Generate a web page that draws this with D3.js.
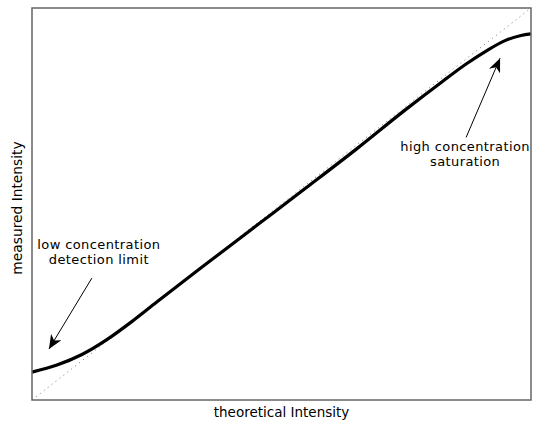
<!DOCTYPE html>
<html>
<head>
<meta charset="utf-8">
<script src="https://cdn.jsdelivr.net/npm/d3@7"></script>
<style>
  body { margin: 0; background: #fff; }
  text { font-family: "DejaVu Sans", Verdana, sans-serif; fill: #000; }
</style>
</head>
<body>
<script>
// theoretical vs measured intensity (arbitrary units, 0..100)
var theoretical = [0, 5, 10, 15, 20, 25, 35, 45, 55, 65, 75, 82, 87, 91, 95, 98, 100];
var measured    = [7.1, 8.9, 11.6, 15.4, 20.0, 25.0, 34.8, 44.5, 54.2, 64.0, 74.2, 81.0, 85.7, 89.0, 91.8, 93.0, 93.4];
var idealLine = [0, 100];
var xLabel = "theoretical Intensity",
  yLabel = "measured Intensity";
var notes = [
  { lines: ["low concentration", "detection limit"], at: [13.4, 38.4], from: [12.0, 31.1], to: [3.4, 13.0] },
  { lines: ["high concentration", "saturation"], at: [86.8, 63.5], from: [87, 67], to: [93.8, 87.2] }
];

var width = 533,
  height = 424,
  margin = { top: 8, right: 2, bottom: 24, left: 32 };

var svg = d3.select("body").append("svg")
  .attr("width", width)
  .attr("height", height);

var x = d3.scaleLinear().domain([0, 100]).range([margin.left, width - margin.right]);
var y = d3.scaleLinear().domain([0, 100]).range([height - margin.bottom, margin.top]);

svg.append("defs").append("marker")
  .attr("id", "head")
  .attr("viewBox", "0 0 14 12")
  .attr("refX", 14).attr("refY", 6)
  .attr("markerWidth", 14).attr("markerHeight", 12)
  .attr("markerUnits", "userSpaceOnUse")
  .attr("orient", "auto")
  .append("path")
  .attr("d", "M0,0 L14,6 L0,12 L4,6 Z")
  .attr("fill", "#000");

// dotted ideal line
svg.append("line")
  .attr("x1", x(idealLine[0])).attr("y1", y(idealLine[0]))
  .attr("x2", x(idealLine[1])).attr("y2", y(idealLine[1]))
  .attr("stroke", "#777")
  .attr("stroke-width", 1)
  .attr("stroke-dasharray", "1,4");

var line = d3.line()
  .curve(d3.curveMonotoneX)
  .x(function (d) { return x(d[0]); })
  .y(function (d) { return y(d[1]); });

svg.append("path")
  .datum(d3.zip(theoretical, measured))
  .attr("d", line)
  .attr("fill", "none")
  .attr("stroke", "#000")
  .attr("stroke-width", 3.2);

// frame
svg.append("rect")
  .attr("x", x(0)).attr("y", y(100))
  .attr("width", x(100) - x(0)).attr("height", y(0) - y(100))
  .attr("fill", "none")
  .attr("stroke", "#666")
  .attr("stroke-width", 1.5);

notes.forEach(function (n) {
  svg.append("line")
    .attr("x1", x(n.from[0])).attr("y1", y(n.from[1]))
    .attr("x2", x(n.to[0])).attr("y2", y(n.to[1]))
    .attr("stroke", "#000")
    .attr("stroke-width", 1)
    .attr("marker-end", "url(#head)");
  n.lines.forEach(function (t, i) {
    svg.append("text")
      .attr("x", x(n.at[0]))
      .attr("y", y(n.at[1]) + i * 15)
      .attr("text-anchor", "middle")
      .attr("font-size", 13)
      .attr("letter-spacing", 0.4)
      .text(t);
  });
});

svg.append("text")
  .attr("x", (x(0) + x(100)) / 2)
  .attr("y", 417)
  .attr("text-anchor", "middle")
  .attr("font-size", 13.5)
  .text(xLabel);

svg.append("text")
  .attr("transform", "translate(22,208) rotate(-90)")
  .attr("text-anchor", "middle")
  .attr("font-size", 13.8)
  .text(yLabel);
</script>
</body>
</html>
